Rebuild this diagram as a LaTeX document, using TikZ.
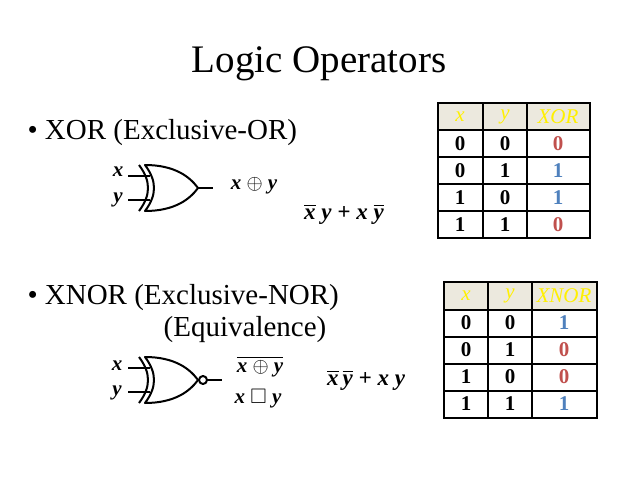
\documentclass[tikz,border=0pt]{standalone}
\usepackage{amssymb}
\usepackage{fontspec}
\setmainfont{Liberation Serif}
\usetikzlibrary{positioning}
\definecolor{hdrfill}{RGB}{236,233,222}
\definecolor{hdrtext}{RGB}{255,240,0}
\definecolor{valred}{RGB}{192,80,77}
\definecolor{valblue}{RGB}{79,129,189}
\tikzset{
  gate/.style={line width=2pt,line join=round},
  wire/.style={line width=2pt},
  bullet/.style={anchor=west,font=\fontsize{29}{33}\selectfont},
  var/.style={font=\fontsize{21}{24}\selectfont\bfseries\itshape},
  expr/.style={font=\fontsize{23}{26}\selectfont\bfseries\itshape},
  cell/.style={font=\fontsize{21}{24}\selectfont\bfseries},
  hdr/.style={font=\fontsize{21}{24}\selectfont\itshape,text=hdrtext},
  grid/.style={line width=1.6pt}
}
\newcommand{\xorbody}[2]{% origin x, top y
  \draw[gate] (#1,#2) .. controls (#1+30,#2) and (#1+45,#2+12) .. (#1+53,#2+23)
    .. controls (#1+45,#2+34) and (#1+30,#2+46) .. (#1,#2+46)
    .. controls (#1+12,#2+30) and (#1+12,#2+16) .. cycle;
  \draw[gate] (#1-6,#2) .. controls (#1+6,#2+16) and (#1+6,#2+30) .. (#1-6,#2+46);
}
\begin{document}
\begin{tikzpicture}[x=1pt,y=-1pt]
  \useasboundingbox (0,0) rectangle (638,479);
  \node (title) at (319,64) {\fontsize{39}{44}\selectfont Logic Operators};
  \node[bullet] (xorb) at (24,133) {\textbullet\ XOR (Exclusive-OR)};
  \node[bullet] (xnorb) at (24,298) {\textbullet\ XNOR (Exclusive-NOR)};
  \node[font=\fontsize{29}{33}\selectfont] (equiv) at (245,330) {(Equivalence)};
  % XOR gate
  \xorbody{145}{165}
  \draw[wire] (128,176) -- (150,176);
  \draw[wire] (128,200) -- (150,200);
  \draw[wire] (198,188) -- (213,188);
  \node[var] (xl) at (118,172) {x};
  \node[var] (yl) at (118,200) {y};
  \node[var] (xorout) at (254,186) {x \ensuremath{\oplus} y};
  \node[expr] (xorexp) at (344,214) {\ensuremath{\overline{\mbox{x}}} y + x \ensuremath{\overline{\mbox{y}}}};
  % XNOR gate
  \xorbody{145}{357}
  \draw[wire] (128,368) -- (150,368);
  \draw[wire] (128,392) -- (150,392);
  \draw[gate] (203,380) circle (4);
  \draw[wire] (207,380) -- (222,380);
  \node[var] (xl2) at (117,366) {x};
  \node[var] (yl2) at (117,393) {y};
  \node[var] (xnorout) at (260,367) {\ensuremath{\overline{\mbox{x \ensuremath{\oplus} y}}}};
  \node[var] (xnoralt) at (258,399) {x \ensuremath{\square} y};
  \node[expr] (xnorexp) at (366,380) {\ensuremath{\overline{\mbox{x}}\,\overline{\mbox{y}}} + x y};
  % XOR table
  \fill[hdrfill] (438,103) rectangle (590,130);
  \draw[grid] (438,103) rectangle (590,238);
  \foreach \yy in {130,157,184,211} \draw[grid] (438,\yy) -- (590,\yy);
  \foreach \xx in {483,527} \draw[grid] (\xx,103) -- (\xx,238);
  \node[hdr] at (460,117) {x};
  \node[hdr] at (505,117) {y};
  \node[hdr] at (558,117) {XOR};
  \foreach \a/\b/\c/\col [count=\i] in {0/0/0/valred,0/1/1/valblue,1/0/1/valblue,1/1/0/valred}{
    \node[cell] at (460,117+27*\i) {\a};
    \node[cell] at (505,117+27*\i) {\b};
    \node[cell,text=\col] at (558,117+27*\i) {\c};
  }
  % XNOR table
  \fill[hdrfill] (444,282) rectangle (597,310);
  \draw[grid] (444,282) rectangle (597,418);
  \foreach \yy in {310,337,364,391} \draw[grid] (444,\yy) -- (597,\yy);
  \foreach \xx in {488,532} \draw[grid] (\xx,282) -- (\xx,418);
  \node[hdr] at (466,296) {x};
  \node[hdr] at (510,296) {y};
  \node[hdr] at (564,296) {XNOR};
  \foreach \a/\b/\c/\col [count=\i] in {0/0/1/valblue,0/1/0/valred,1/0/0/valred,1/1/1/valblue}{
    \node[cell] at (466,296+27*\i) {\a};
    \node[cell] at (510,296+27*\i) {\b};
    \node[cell,text=\col] at (564,296+27*\i) {\c};
  }
\end{tikzpicture}
\end{document}
